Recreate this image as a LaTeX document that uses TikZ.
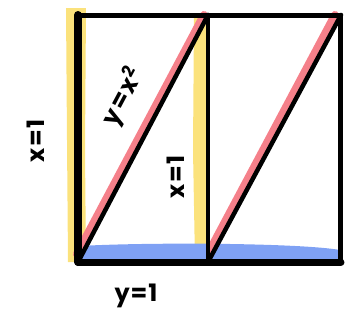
\documentclass[tikz,border=0pt]{standalone}
\usepackage{fontspec}
\setsansfont{Poppins}
\usetikzlibrary{calc}
\definecolor{Marker}{HTML}{FBE27C}
\definecolor{Rose}{HTML}{F5808A}
\definecolor{Sky}{HTML}{7FA1F4}
\definecolor{Ink}{HTML}{000000}

\begin{document}
\begin{tikzpicture}[x=1pt,y=-1pt,
  frame/.style={draw=Ink,line width=5pt,line cap=round,line join=round},
  hilite/.style={line cap=round,line join=round},
  hand/.style={text=Ink,font=\sffamily\bfseries\fontsize{24}{24}\selectfont,inner sep=0pt}
]
\useasboundingbox (0,0) rectangle (360,327);
\coordinate (TL) at (78,15); \coordinate (TM) at (208,15); \coordinate (TR) at (341,15);
\coordinate (BL) at (78,262); \coordinate (BM) at (208,262); \coordinate (BR) at (341,262);
% yellow marker strips
\fill[Marker] (66,8) -- (86,8) -- (85,150) -- (86,262) -- (68,262) -- (67,140) -- cycle;
\fill[Marker] (194,18) -- (207,16) -- (207,262) -- (195,262) -- (193,150) -- cycle;
% blue strip along the bottom
\fill[Sky] (80,246) .. controls (150,242) and (300,243) .. (340,250) -- (340,262) -- (80,262) -- cycle;
% red strokes beside the diagonals
\draw[hilite,draw=Rose,line width=8pt] ($(BL)+(-1,-8)$) -- ($(TM)+(-4,0)$);
\draw[hilite,draw=Rose,line width=8pt] ($(BM)+(2,-12)$) -- ($(TR)+(-6,0)$);
% black frame and diagonals
\draw[frame] (TL) rectangle (BR);
\draw[frame,line width=8pt] (TL) -- (BL);
\draw[frame,line width=7pt] (BL) -- (BR);
\draw[frame,line width=4.5pt] (TM) -- (BM);
\draw[frame,line width=4.5pt] (BL) -- (TM);
\draw[frame,line width=4.5pt] (BM) -- (TR);
% labels
\node[hand,rotate=90] (xleft) at (36,141) {x\kern2pt=\kern1pt1};
\node[hand,rotate=62] (curve) at (123,97) {y\kern2pt=\kern2pt x\textsuperscript{2}};
\node[hand,rotate=90] (xmid) at (176,177) {x\kern2pt=\kern1pt1};
\node[hand] (ybot) at (136,296) {y\kern1pt=\kern1pt1};
\end{tikzpicture}
\end{document}
